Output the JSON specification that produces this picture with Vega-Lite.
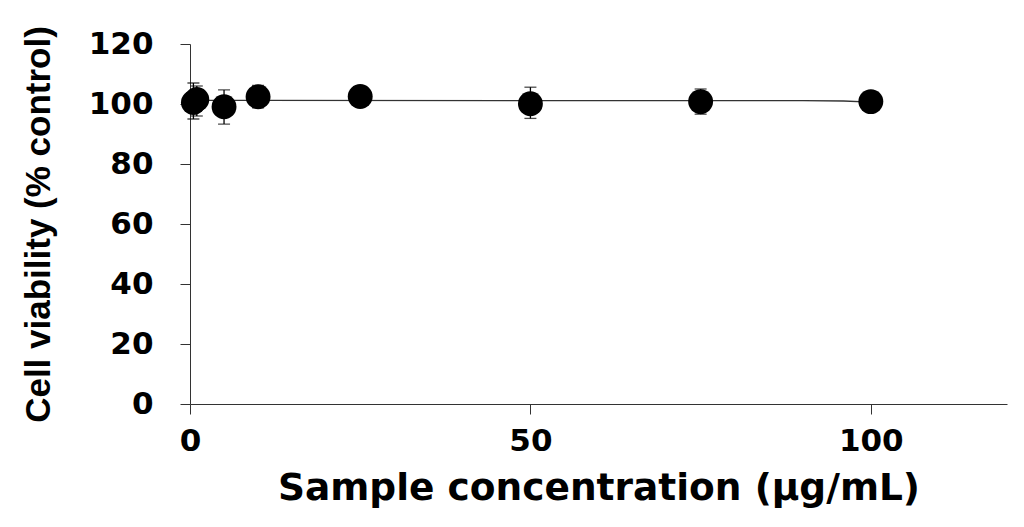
{
  "$schema": "https://vega.github.io/schema/vega-lite/v6.json",
  "width": 817,
  "height": 360,
  "autosize": "none",
  "padding": {"left": 190, "top": 44, "right": 17, "bottom": 123},
  "background": "white",
  "config": {
    "view": {"stroke": null},
    "font": "DejaVu Sans",
    "axis": {
      "grid": false,
      "domainColor": "#333",
      "tickColor": "#333",
      "domainWidth": 1,
      "tickWidth": 1,
      "tickSize": 10,
      "labelFlush": false,
      "labelFont": "DejaVu Sans",
      "labelFontWeight": "bold",
      "labelFontSize": 31,
      "labelColor": "black",
      "titleFont": "DejaVu Sans",
      "titleFontWeight": "bold",
      "titleColor": "black"
    }
  },
  "datasets": {
    "pts": [
      {"conc": 0.5, "viability": 100.5, "lo": 95.0, "hi": 107.0},
      {"conc": 1, "viability": 101.5, "lo": 96.0, "hi": 106.0},
      {"conc": 5, "viability": 99.1, "lo": 93.3, "hi": 104.7},
      {"conc": 10, "viability": 102.4, "lo": 98.7, "hi": 106.2},
      {"conc": 25, "viability": 102.5, "lo": 100.0, "hi": 105.0},
      {"conc": 50, "viability": 100.1, "lo": 95.2, "hi": 105.6},
      {"conc": 75, "viability": 100.8, "lo": 96.6, "hi": 105.0},
      {"conc": 100, "viability": 100.8, "lo": 99.5, "hi": 102.0}
    ],
    "fit": [
      {"conc": 0, "viability": 101.2},
      {"conc": 90, "viability": 101.1},
      {"conc": 96, "viability": 101.0},
      {"conc": 100, "viability": 100.6}
    ]
  },
  "layer": [
    {
      "data": {"name": "fit"},
      "mark": {"type": "line", "color": "#333", "strokeWidth": 1.3},
      "encoding": {
        "x": {
          "field": "conc", "type": "quantitative",
          "scale": {"domain": [0, 120], "nice": false},
          "axis": {"values": [0, 50, 100], "title": "Sample concentration (µg/mL)", "titleFontSize": 37.5, "labelPadding": 12, "titlePadding": 13}
        },
        "y": {
          "field": "viability", "type": "quantitative",
          "scale": {"domain": [0, 120], "nice": false},
          "axis": {"values": [0, 20, 40, 60, 80, 100, 120], "title": "Cell viability (% control)", "titleFont": "Liberation Sans", "titleFontSize": 35, "labelPadding": 27, "titlePadding": 32}
        }
      }
    },
    {
      "data": {"name": "pts"},
      "mark": {"type": "rule", "color": "black", "strokeWidth": 1.3},
      "encoding": {
        "x": {"field": "conc", "type": "quantitative"},
        "y": {"field": "lo", "type": "quantitative"},
        "y2": {"field": "hi"}
      }
    },
    {
      "data": {"name": "pts"},
      "mark": {"type": "tick", "orient": "horizontal", "color": "black", "size": 12, "thickness": 1.3},
      "encoding": {
        "x": {"field": "conc", "type": "quantitative"},
        "y": {"field": "lo", "type": "quantitative"}
      }
    },
    {
      "data": {"name": "pts"},
      "mark": {"type": "tick", "orient": "horizontal", "color": "black", "size": 12, "thickness": 1.3},
      "encoding": {
        "x": {"field": "conc", "type": "quantitative"},
        "y": {"field": "hi", "type": "quantitative"}
      }
    },
    {
      "data": {"name": "pts"},
      "mark": {"type": "point", "shape": "circle", "filled": true, "color": "black", "opacity": 1, "size": 620},
      "encoding": {
        "x": {"field": "conc", "type": "quantitative"},
        "y": {"field": "viability", "type": "quantitative"}
      }
    }
  ]
}
